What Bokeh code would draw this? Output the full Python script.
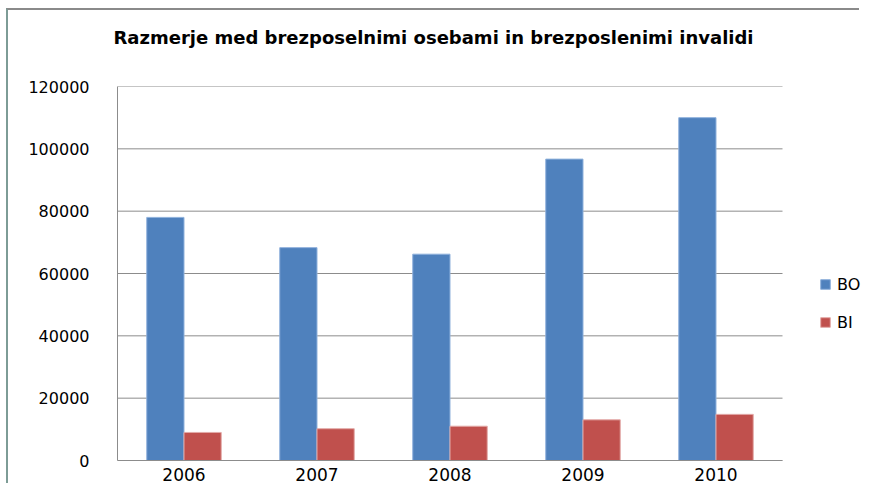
from bokeh.plotting import figure
from bokeh.models import (ColumnDataSource, Legend, LegendItem, Title, Range1d,
                          FixedTicker, NumeralTickFormatter)
from bokeh.embed import file_html
from bokeh.resources import INLINE

years = ["2006", "2007", "2008", "2009", "2010"]
bo = [78000, 68300, 66200, 96700, 110000]
bi = [9000, 10200, 11000, 13050, 14800]
y_ticks = [0, 20000, 40000, 60000, 80000, 100000, 120000]
title_text = "Razmerje med brezposelnimi osebami in brezposlenimi invalidi"

n = len(years)
centers = [i + 0.5 for i in range(n)]
BAR_W = 0.28
src = ColumnDataSource(dict(years=years, bo=bo, bi=bi,
                            x_bo=[c - BAR_W / 2 for c in centers],
                            x_bi=[c + BAR_W / 2 for c in centers]))

FONT = "DejaVu Sans"
GRID = "#8c8c8c"
CANVAS_W, CANVAS_H = 853, 475
LEFT, TOP, BOTTOM = 109, 76, 25
PLOT_W = 665                     # width of the category area in px
frame_w = CANVAS_W - LEFT        # frame runs to canvas right edge (room for legend)
x_end = n * frame_w / PLOT_W

p = figure(width=CANVAS_W, height=CANVAS_H, output_backend="svg", toolbar_location=None,
           x_range=Range1d(0, x_end), y_range=Range1d(0, 120000),
           min_border_left=LEFT, min_border_right=0, min_border_top=TOP, min_border_bottom=BOTTOM,
           background_fill_color="white", border_fill_color="white")

p.styles = {"border-top": "2px solid #8a8a8a", "border-left": "2px solid #7d9c96",
            "margin-top": "8px", "margin-left": "6px"}

# spacer between frame and title
p.add_layout(Title(text=" ", text_font_size="1px", standoff=31), "above")
t = Title(text=title_text, align="left", text_font=FONT, text_font_size="18px",
          text_font_style="bold", text_color="#000000", standoff=10, offset=-4)
p.add_layout(t, "above")

# horizontal gridlines limited to the category area
p.segment(x0=[0] * len(y_ticks), x1=[n] * len(y_ticks), y0=y_ticks, y1=y_ticks,
          line_color=GRID, line_width=1)

r1 = p.vbar(x="x_bo", top="bo", width=BAR_W, source=src,
            fill_color="#4F81BD", line_color="#8fb1dc", line_width=1)
r2 = p.vbar(x="x_bi", top="bi", width=BAR_W, source=src,
            fill_color="#C0504D", line_color="#e3aaa8", line_width=1)

p.outline_line_color = None
p.xgrid.grid_line_color = None
p.ygrid.grid_line_color = None
p.yaxis.ticker = FixedTicker(ticks=y_ticks)
p.yaxis.formatter = NumeralTickFormatter(format="0")
p.xaxis.ticker = FixedTicker(ticks=centers)
p.xaxis.major_label_overrides = {c: y for c, y in zip(centers, years)}
p.xaxis.bounds = (0, n)
for ax in (p.xaxis[0], p.yaxis[0]):
    ax.minor_tick_line_color = None
    ax.major_tick_line_color = None
    ax.axis_line_color = GRID
    ax.major_label_text_font = FONT
    ax.major_label_text_color = "#000000"
p.yaxis.major_label_standoff = 22
p.xaxis.major_label_standoff = 1
p.yaxis.major_label_text_font_size = "16px"
p.xaxis.major_label_text_font_size = "17px"

legend = Legend(items=[LegendItem(label="BO", renderers=[r1]), LegendItem(label="BI", renderers=[r2])],
                location=(702, 128), orientation="vertical",
                glyph_width=12, glyph_height=12, label_height=20, spacing=18,
                label_standoff=6, padding=0, margin=0,
                border_line_color=None, background_fill_alpha=0,
                label_text_font=FONT, label_text_font_size="16px", label_text_color="#000000")
p.add_layout(legend, "center")

open("out.html", "w").write(file_html(p, INLINE))
